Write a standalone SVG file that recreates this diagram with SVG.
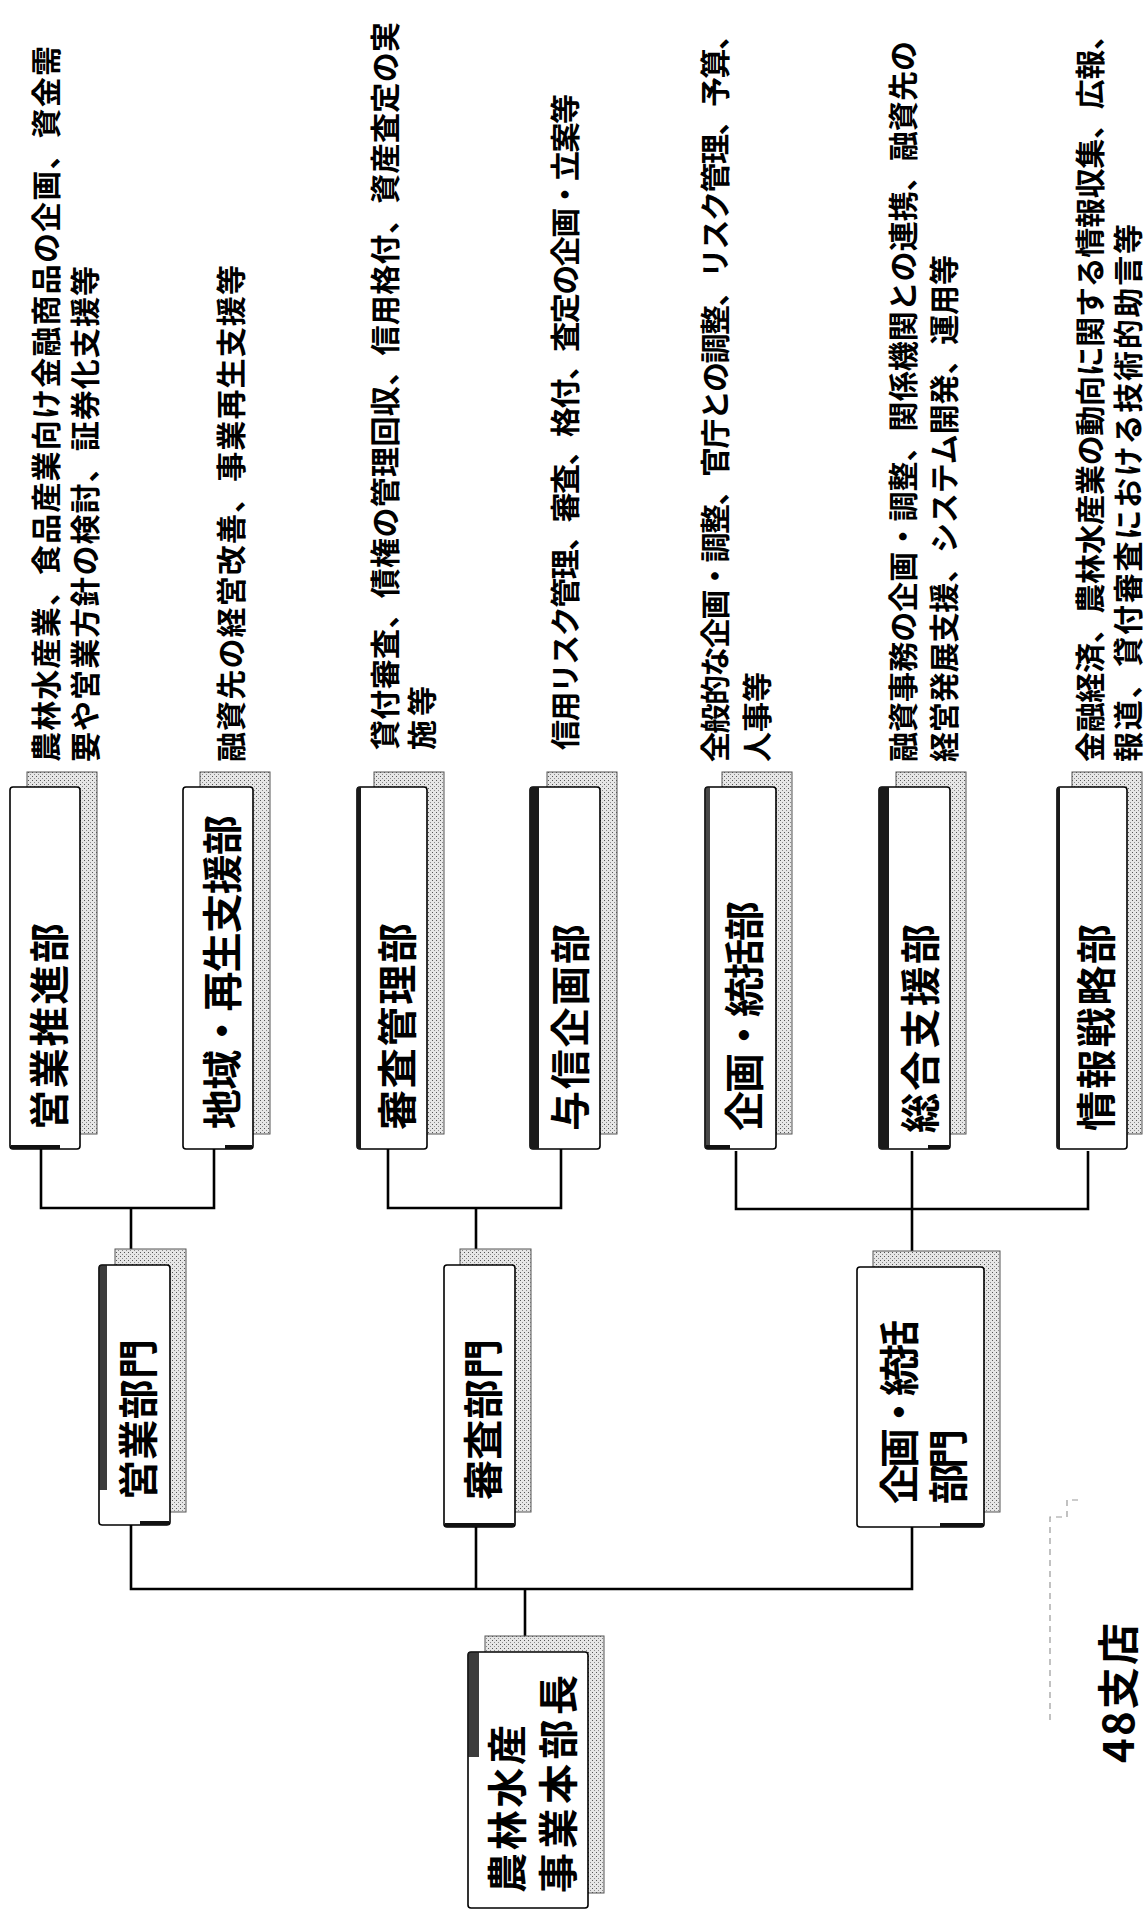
<svg xmlns="http://www.w3.org/2000/svg" width="1146" height="1915" viewBox="0 0 1146 1915">
<defs>
<pattern id="stip" width="4" height="4" patternUnits="userSpaceOnUse">
<rect width="4" height="4" fill="#e6e6e6"/>
<rect x="0" y="0" width="1" height="1" fill="#555"/>
<rect x="2" y="2" width="1" height="1" fill="#8a8a8a"/>
</pattern>
<style>
.desc{font-family:"Noto Sans CJK JP","Noto Sans CJK SC",sans-serif;font-weight:700;font-size:30px;fill:#000}
.lbl{font-family:"Noto Sans CJK JP","Noto Sans CJK SC",sans-serif;font-weight:700;font-size:40px;fill:#000}
.front{fill:#fff;stroke:#000;stroke-width:1.6}
.back{fill:url(#stip);stroke:#555;stroke-width:1}
.dark{fill:#1a1a1a}
.shade{stroke:#111;stroke-width:4;fill:none}
.conn{stroke:#000;stroke-width:2.6;fill:none}
.ghost{stroke:#999;stroke-width:1.2;fill:none;stroke-dasharray:6 5}
</style>
</defs>
<rect width="1146" height="1915" fill="#fff"/>

<g id="connectors">
<path class="conn" d="M41,1149V1208H214V1149M131,1208V1265"/>
<path class="conn" d="M388,1149V1208H561V1149M476,1208V1265"/>
<path class="conn" d="M736,1151V1209H1088V1151M912,1151V1267"/>
<path class="conn" d="M131,1525V1589H912V1527M476,1527V1589M525,1589V1652"/>
</g>

<g id="n-eigyo-suishin">
<rect class="back" x="27" y="772" width="70" height="362"/>
<rect class="front" x="10" y="787" width="70" height="362" rx="3"/>
<path class="shade" d="M11,1147H60"/>
<text class="lbl" transform="translate(47,1130) rotate(-90)" dominant-baseline="central" textLength="207" lengthAdjust="spacing">営業推進部</text>
<text class="desc" transform="translate(44,762) rotate(-90)" dominant-baseline="central" textLength="716" lengthAdjust="spacing">農林水産業、食品産業向け金融商品の企画、資金需</text>
<text class="desc" transform="translate(83,762) rotate(-90)" dominant-baseline="central" textLength="496" lengthAdjust="spacing">要や営業方針の検討、証券化支援等</text>
</g>

<g id="n-chiiki">
<rect class="back" x="200" y="772" width="70" height="362"/>
<rect class="front" x="183" y="787" width="70" height="362" rx="3"/>
<path class="shade" d="M225,1147H252"/>
<text class="lbl" transform="translate(220,1129) rotate(-90)" dominant-baseline="central" textLength="314" lengthAdjust="spacing">地域・再生支援部</text>
<text class="desc" transform="translate(229,762) rotate(-90)" dominant-baseline="central" textLength="497" lengthAdjust="spacing">融資先の経営改善、事業再生支援等</text>
</g>

<g id="n-shinsa-kanri">
<rect class="back" x="374" y="772" width="70" height="362"/>
<rect class="front" x="357" y="787" width="70" height="362" rx="3"/>
<rect class="dark" x="357" y="787" width="4" height="362"/>
<text class="lbl" transform="translate(395,1130) rotate(-90)" dominant-baseline="central" textLength="207" lengthAdjust="spacing">審査管理部</text>
<text class="desc" transform="translate(383,750) rotate(-90)" dominant-baseline="central" textLength="728" lengthAdjust="spacing">貸付審査、債権の管理回収、信用格付、資産査定の実</text>
<text class="desc" transform="translate(420,750) rotate(-90)" dominant-baseline="central" textLength="64" lengthAdjust="spacing">施等</text>
</g>

<g id="n-yoshin">
<rect class="back" x="547" y="772" width="70" height="362"/>
<rect class="front" x="530" y="787" width="70" height="362" rx="3"/>
<rect class="dark" x="530" y="787" width="9" height="362"/>
<text class="lbl" transform="translate(568,1131) rotate(-90)" dominant-baseline="central" textLength="207" lengthAdjust="spacing">与信企画部</text>
<text class="desc" transform="translate(563,750) rotate(-90)" dominant-baseline="central" textLength="656" lengthAdjust="spacing">信用リスク管理、審査、格付、査定の企画・立案等</text>
</g>

<g id="n-kikaku-tokatsu-bu">
<rect class="back" x="722" y="772" width="70" height="362"/>
<rect class="front" x="705" y="787" width="71" height="362" rx="3"/>
<rect class="dark" x="705" y="787" width="5" height="362" opacity="0.8"/>
<path class="shade" d="M706,1147H730"/>
<text class="lbl" transform="translate(742,1131) rotate(-90)" dominant-baseline="central" textLength="230" lengthAdjust="spacing">企画・統括部</text>
<text class="desc" transform="translate(713,762) rotate(-90)" dominant-baseline="central" textLength="742" lengthAdjust="spacing">全般的な企画・調整、官庁との調整、リスク管理、予算、</text>
<text class="desc" transform="translate(755,762) rotate(-90)" dominant-baseline="central" textLength="90" lengthAdjust="spacing">人事等</text>
</g>

<g id="n-sogo-shien">
<rect class="back" x="896" y="772" width="70" height="362"/>
<rect class="front" x="879" y="787" width="71" height="362" rx="3"/>
<rect class="dark" x="879" y="787" width="10" height="362"/>
<path class="shade" d="M928,1147H949"/>
<text class="lbl" transform="translate(918,1133) rotate(-90)" dominant-baseline="central" textLength="209" lengthAdjust="spacing">総合支援部</text>
<text class="desc" transform="translate(901,762) rotate(-90)" dominant-baseline="central" textLength="721" lengthAdjust="spacing">融資事務の企画・調整、関係機関との連携、融資先の</text>
<text class="desc" transform="translate(942,762) rotate(-90)" dominant-baseline="central" textLength="507" lengthAdjust="spacing">経営発展支援、システム開発、運用等</text>
</g>

<g id="n-joho-senryaku">
<rect class="back" x="1072" y="772" width="70" height="362"/>
<rect class="front" x="1057" y="787" width="70" height="362" rx="3"/>
<rect class="dark" x="1057" y="787" width="3" height="362"/>
<text class="lbl" transform="translate(1094,1131) rotate(-90)" dominant-baseline="central" textLength="207" lengthAdjust="spacing">情報戦略部</text>
<text class="desc" transform="translate(1088,762) rotate(-90)" dominant-baseline="central" textLength="742" lengthAdjust="spacing">金融経済、農林水産業の動向に関する情報収集、広報、</text>
<text class="desc" transform="translate(1126,762) rotate(-90)" dominant-baseline="central" textLength="538" lengthAdjust="spacing">報道、貸付審査における技術的助言等</text>
</g>

<g id="n-eigyo-bumon">
<rect class="back" x="115" y="1249" width="71" height="263"/>
<rect class="front" x="99" y="1265" width="71" height="260" rx="3"/>
<rect class="dark" x="99" y="1265" width="8" height="225" opacity="0.85"/>
<path class="shade" d="M140,1523H169"/>
<text class="lbl" transform="translate(136,1500) rotate(-90)" dominant-baseline="central" textLength="161" lengthAdjust="spacing">営業部門</text>
</g>

<g id="n-shinsa-bumon">
<rect class="back" x="460" y="1249" width="71" height="263"/>
<rect class="front" x="444" y="1265" width="71" height="262" rx="3"/>
<path class="shade" d="M445,1525H514"/>
<text class="lbl" transform="translate(481,1500) rotate(-90)" dominant-baseline="central" textLength="161" lengthAdjust="spacing">審査部門</text>
</g>

<g id="n-kikaku-bumon">
<rect class="back" x="873" y="1251" width="127" height="261"/>
<rect class="front" x="857" y="1267" width="127" height="260" rx="3"/>
<path class="shade" d="M940,1525H983"/>
<text class="lbl" transform="translate(897,1504) rotate(-90)" dominant-baseline="central" textLength="184" lengthAdjust="spacing">企画・統括</text>
<text class="lbl" transform="translate(946,1504) rotate(-90)" dominant-baseline="central" textLength="75" lengthAdjust="spacing">部門</text>
</g>

<g id="n-honbucho">
<rect class="back" x="485" y="1636" width="119" height="257"/>
<rect class="front" x="468" y="1652" width="120" height="256" rx="3"/>
<rect class="dark" x="468" y="1652" width="11" height="105" opacity="0.85"/>
<text class="lbl" transform="translate(505,1893) rotate(-90)" dominant-baseline="central" textLength="168" lengthAdjust="spacing">農林水産</text>
<text class="lbl" transform="translate(556,1893) rotate(-90)" dominant-baseline="central" textLength="218" lengthAdjust="spacing">事業本部長</text>
</g>

<g id="n-shiten">
<path class="ghost" d="M1050,1720V1517H1067V1500H1080"/>
<text class="lbl" style="font-size:42px" transform="translate(1115,1763) rotate(-90)" dominant-baseline="central" textLength="140" lengthAdjust="spacing">48支店</text>
</g>
</svg>
